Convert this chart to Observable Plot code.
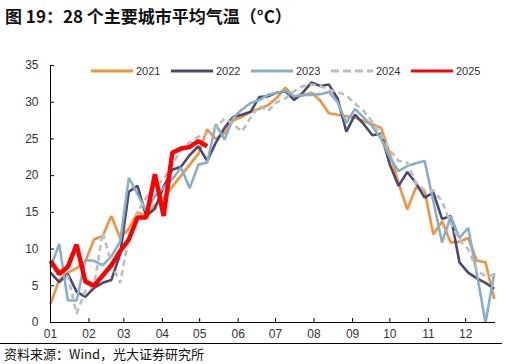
<!DOCTYPE html>
<html>
<head>
<meta charset="utf-8">
<script src="https://cdn.jsdelivr.net/npm/d3@7"></script>
<script src="https://cdn.jsdelivr.net/npm/@observablehq/plot@0.6"></script>
<style>
  html, body { margin: 0; padding: 0; background: #fff; }
  body { width: 516px; height: 364px; overflow: hidden; position: relative; font-family: "Liberation Sans", Arial, sans-serif; }
  #title { position: absolute; left: 5px; top: 3px; font-family: "Noto Sans CJK SC", sans-serif; font-weight: 700; font-size: 17px; color: #111; white-space: nowrap; }
  #chart { position: absolute; left: 0; top: 30px; }
  #legend { position: absolute; left: 91px; top: 63px; display: flex; font-size: 11px; color: #333; }
  .item { width: 80px; display: flex; align-items: center; height: 16px; }
  .item svg { margin-right: 3px; }
  #rule { position: absolute; left: 0; top: 343px; width: 502px; height: 1px; background: #000; }
  #source { position: absolute; left: 4px; top: 344px; font-family: "Noto Sans CJK SC", sans-serif; font-size: 13px; color: #111; white-space: nowrap; }
</style>
</head>
<body>
<div id="title">图 19：28 个主要城市平均气温（°C）</div>
<div id="chart"></div>
<div id="legend"></div>
<div id="rule"></div>
<div id="source">资料来源：Wind，光大证券研究所</div>
<script>
// Weekly observations (one value per week, starting at the first week of January)
const years = ["2021", "2022", "2023", "2024", "2025"];
const colors = ["#F4913C", "#4A4970", "#86B0C8", "#BDBDBD", "#FF0000"];
const months = ["01","02","03","04","05","06","07","08","09","10","11","12"];
const monthStarts = [0,31,59,90,120,151,181,212,243,273,304,334];
const yTicks = [0,5,10,15,20,25,30,35];

const t2021 = [2.5,5.8,6.8,7.4,8.3,11.3,11.8,14.5,11.5,12.8,15.0,14.5,16.0,17.0,18.5,20.0,21.5,23.0,26.3,25.0,25.8,27.5,28.0,28.7,29.1,29.6,30.6,32.0,30.7,30.9,31.3,30.2,28.5,28.3,28.1,27.9,27.4,27.0,26.5,23.0,19.0,15.4,18.4,17.9,12.0,13.8,10.9,11.0,11.5,8.4,8.2,3.2];
const t2022 = [6.8,5.5,6.6,4.2,3.5,4.7,5.4,5.8,9.3,17.8,18.6,14.5,15.5,18.5,20.8,21.2,22.8,24.0,22.0,24.5,26.5,28.0,28.3,28.7,30.7,30.8,31.3,31.5,30.3,31.3,32.7,32.2,32.4,30.5,26.0,28.3,27.0,25.5,25.7,21.5,18.6,20.5,19.0,17.0,17.7,14.1,14.5,8.2,6.8,6.0,5.4,4.6];
const t2023 = [7.5,10.7,3.0,3.0,8.5,8.4,7.8,9.0,11.0,19.7,17.5,15.2,17.2,18.4,19.5,21.1,18.3,21.5,21.8,27.0,24.9,27.9,29.0,29.9,30.3,31.0,31.3,31.6,30.8,31.0,31.0,31.1,31.4,30.0,27.2,29.1,27.9,26.7,25.0,22.5,20.6,21.3,21.7,22.0,16.5,10.9,14.5,11.5,12.9,6.6,0.0,6.7];
const t2024 = [8.1,7.1,6.3,1.2,4.3,5.0,12.3,8.0,5.4,11.5,15.0,17.0,18.5,19.5,21.5,23.5,24.5,25.3,25.8,26.5,27.8,27.0,26.0,27.9,29.5,28.8,30.0,30.5,31.5,32.2,32.4,32.2,31.7,31.4,30.9,29.8,28.8,27.3,25.6,23.5,22.0,21.8,19.0,18.0,18.0,16.5,13.5,11.2,10.0,7.1,6.3,6.5];
const t2025 = [8.4,6.6,7.6,10.6,5.6,5.0,6.4,7.8,9.7,11.3,14.3,14.3,20.2,14.5,23.1,23.7,23.9,24.7,24.0];

const series = [t2021, t2022, t2023, t2024, t2025];
const rows = [];
series.forEach((vals, s) => vals.forEach((v, i) => rows.push({year: years[s], day: i * 7, value: v})));

const lineMarks = years.map((yr, s) => Plot.line(rows.filter(r => r.year === yr), {
  x: "day", y: "value",
  stroke: colors[s],
  strokeWidth: yr === "2025" ? 4.5 : 2.6,
  strokeDasharray: yr === "2024" ? "6,4" : null,
  strokeLinejoin: "miter", strokeLinecap: "butt"
}));

const W = 516, H = 315, mL = 50, mR = 21, mT = 35, mB = 23;
const chart = Plot.plot({
  width: W, height: H,
  marginLeft: mL, marginRight: mR, marginTop: mT, marginBottom: mB,
  style: {fontFamily: "'Liberation Sans', Arial, sans-serif", fontSize: "12px", color: "#333", background: "#fff"},
  x: {domain: [0, 358]},
  y: {domain: [0, 35]},
  marks: [
    Plot.axisY(yTicks, {tickSize: 0, tickPadding: 12, label: null, fill: "#333", fontSize: 12}),
    Plot.axisX(monthStarts, {tickSize: 0, tickPadding: 7, label: null, fill: "#333", fontSize: 12,
      tickFormat: d => months[monthStarts.indexOf(d)]}),
    ...lineMarks,
    Plot.ruleX([0], {y1: 0, y2: 35, stroke: "#000", strokeWidth: 1}),
    Plot.ruleY([0], {stroke: "#000", strokeWidth: 1}),
    Plot.tickY(yTicks, {y: d => d, stroke: "#000", insetRight: W - mL - mR - 4}),
    Plot.tickX(monthStarts, {x: d => d, stroke: "#000", insetTop: H - mT - mB - 4})
  ]
});
document.getElementById("chart").appendChild(chart);

// Legend
const legend = document.getElementById("legend");
years.forEach((yr, s) => {
  const item = document.createElement("div");
  item.className = "item";
  const dash = yr === "2024" ? ' stroke-dasharray="8,4"' : '';
  item.innerHTML = `<svg width="42" height="6"><line x1="0" y1="3" x2="42" y2="3" stroke="${colors[s]}" stroke-width="2.8"${dash}/></svg><span>${yr}</span>`;
  legend.appendChild(item);
});
</script>
</body>
</html>
